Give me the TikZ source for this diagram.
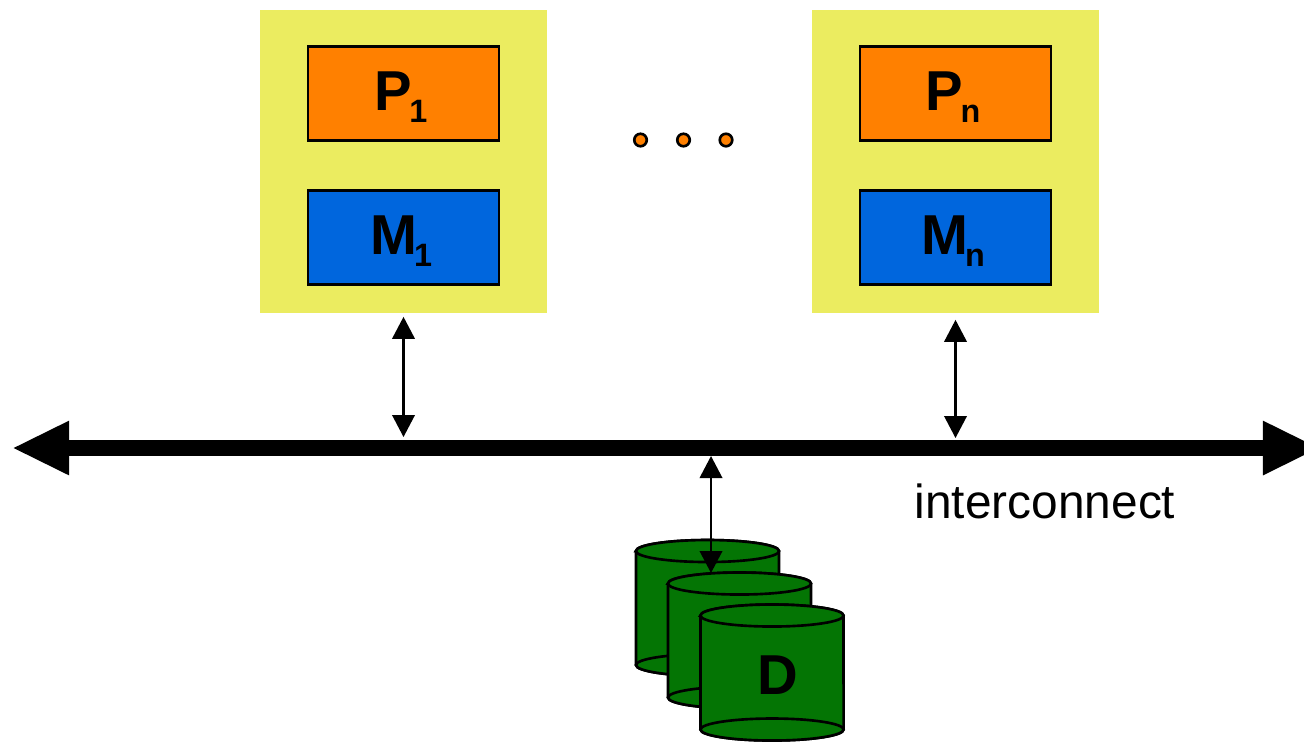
\documentclass[tikz,border=0pt]{standalone}
\usepackage{fontspec}
\setmainfont{Liberation Sans}
\usetikzlibrary{arrows.meta}

\newcommand{\lblsub}[2]{\fontsize{16}{16}\selectfont\bfseries #1\hspace{-0.8pt}\raisebox{-3.6pt}{\fontsize{9.2}{10}\selectfont #2}\kern1.4pt}

\tikzset{
    nodebox/.style={fill=nodeyellow, minimum width=2.875cm, minimum height=3.03cm, inner sep=0pt, outer sep=0pt},
    unitbox/.style={draw=black, line width=0.75pt, minimum width=1.91cm, minimum height=0.94cm, inner sep=0pt, text height=11.4pt, text depth=2pt},
    procbox/.style={unitbox, fill=procorange},
    membox/.style={unitbox, fill=memblue},
    diskcyl/.style={draw=black, line width=0.75pt, fill=diskgreen},
    link/.style={line width=0.6pt, {Triangle[length=0.22cm,width=0.225cm]}-{Triangle[length=0.22cm,width=0.225cm]}},
    dotmark/.style={circle, draw=black, line width=0.75pt, fill=procorange, minimum size=0.125cm, inner sep=0pt}
}
\definecolor{nodeyellow}{RGB}{235,236,96}
\definecolor{procorange}{RGB}{255,128,0}
\definecolor{memblue}{RGB}{0,102,221}
\definecolor{diskgreen}{RGB}{4,117,4}

\begin{document}
\begin{tikzpicture}[x=0.01cm,y=-0.01cm]
    \useasboundingbox (0,0) rectangle (1304,741);

    % draw processing nodes
    \node[nodebox] (node1) at (403.5,161.75) {};
    \node[nodebox] (noden) at (955.5,161.75) {};
    \node[procbox] (p1) at (403.5,93.5) {\lblsub{P}{1}};
    \node[membox] (m1) at (403.5,237.5) {\lblsub{M}{1}};
    \node[procbox] (pn) at (955.5,93.5) {\lblsub{P}{n}};
    \node[membox] (mn) at (955.5,237.5) {\lblsub{M}{n}};

    % draw dots
    \foreach \x/\name in {640.5/a,683.5/b,726/c}
    \node[dotmark] (dot\name) at (\x,140) {};

    % draw interconnect
    \coordinate (busleft) at (12,448);
    \coordinate (busright) at (1320,448);
    \draw[line width=0.16cm, {Triangle[length=0.57cm,width=0.5cm]}-{Triangle[length=0.57cm,width=0.5cm]}] (busleft) -- (busright);
    \node[anchor=base] (buslabel) at (1045,518) {\fontsize{13.6}{14}\selectfont interconnect};

    % draw disks
    \foreach \x/\y in {707.5/551,739.5/583.5,772/615.5} {
        \draw[diskcyl] (\x,\y+114) ellipse[x radius=0.715cm,y radius=0.11cm];
        \draw[diskcyl] (\x-71.5,\y) -- (\x-71.5,\y+114) arc[start angle=180,end angle=360,x radius=0.715cm,y radius=0.11cm] -- (\x+71.5,\y) arc[start angle=0,end angle=180,x radius=0.715cm,y radius=0.11cm] -- cycle;
        \draw[diskcyl] (\x,\y) ellipse[x radius=0.715cm,y radius=0.11cm];
        \draw[line width=0.75pt] (\x-71.5,\y+114) arc[start angle=180,end angle=0,x radius=0.715cm,y radius=0.11cm];
    }
    \node[font=\fontsize{16}{16}\selectfont\bfseries] (disklabel) at (778,675) {D};

    % draw links
    \coordinate (tap1) at (403.5,437);
    \coordinate (tapn) at (955.5,438);
    \coordinate (tapd) at (711,456);
    \coordinate (disktop) at (711,573);
    \draw[link, shorten <=0.035cm] (node1.south) -- (tap1);
    \draw[link, shorten <=0.065cm] (noden.south) -- (tapn);
    \draw[link] (tapd) -- (disktop);
\end{tikzpicture}
\end{document}
